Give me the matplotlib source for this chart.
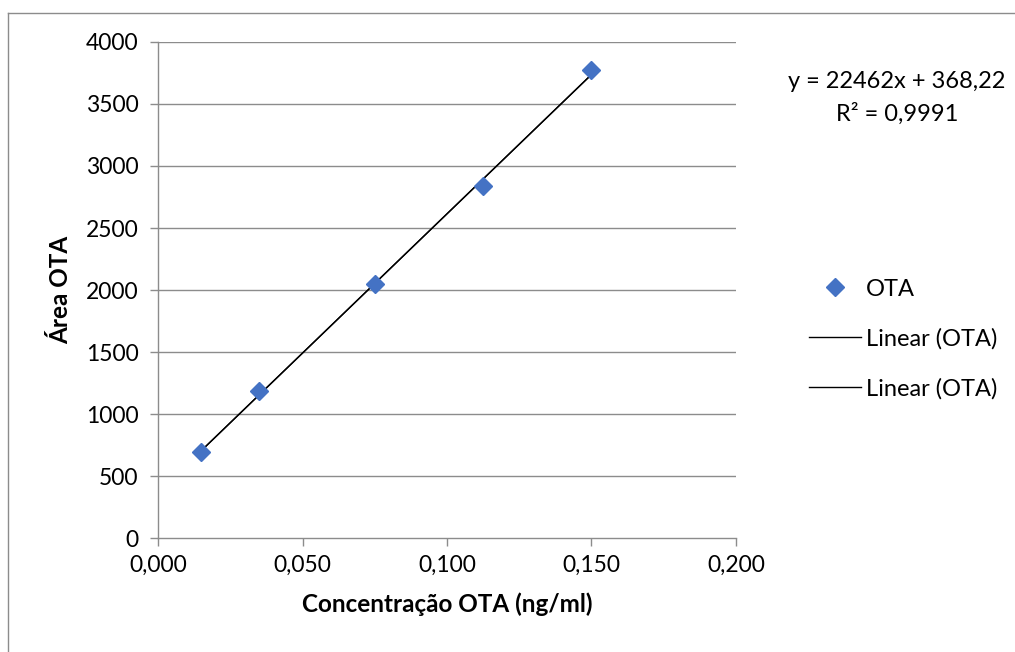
import numpy as np
import matplotlib
matplotlib.use("Agg")
import matplotlib.pyplot as plt
from matplotlib.lines import Line2D
from matplotlib.ticker import FuncFormatter

plt.rcParams['font.family'] = ['Lato', 'DejaVu Sans']

# dados
conc = [0.015, 0.035, 0.075, 0.1125, 0.150]
area = [692, 1183, 2045, 2840, 3776]
slope = 22462
intercept = 368.22
r2 = 0.9991

xticks = [0.0, 0.05, 0.10, 0.15, 0.20]
yticks = [0, 500, 1000, 1500, 2000, 2500, 3000, 3500, 4000]

fig = plt.figure(figsize=(10.15, 6.52), dpi=100)
ax = fig.add_axes([0.1557, 0.1748, 0.5694, 0.7608])

grey = '#8c8c8c'
# moldura do gráfico (só esquerda e topo visíveis)
fx, fy = 7.5/1015, 1 - 12.5/652
fig.add_artist(Line2D([fx, fx], [0, fy], transform=fig.transFigure, color=grey, linewidth=1.0))
fig.add_artist(Line2D([fx, 1], [fy, fy], transform=fig.transFigure, color=grey, linewidth=1.0))

for y in yticks[1:]:
    ax.axhline(y, color=grey, linewidth=1.0, zorder=0)

xl = np.array([min(conc), max(conc)])
ax.plot(xl, slope*xl + intercept, color='black', linewidth=1.0, zorder=2)
ax.plot(xl, slope*xl + intercept, color='black', linewidth=1.0, zorder=2)
ax.plot(conc, area, linestyle='none', marker='D', markersize=9,
        color='#4472C4', zorder=3)

ax.set_xlim(0, 0.2)
ax.set_ylim(0, 4000)
ax.set_xticks(xticks)
ax.set_yticks(yticks)
ax.xaxis.set_major_formatter(FuncFormatter(lambda v, p: ('%.3f' % v).replace('.', ',')))
for s in ['top', 'right']:
    ax.spines[s].set_visible(False)
for s in ['left', 'bottom']:
    ax.spines[s].set_color(grey)
    ax.spines[s].set_linewidth(1.0)
ax.tick_params(axis='both', colors=grey, labelcolor='black', labelsize=16.5,
               length=6, width=1.0)
ax.tick_params(axis='y', pad=8)
ax.tick_params(axis='x', pad=6)

ax.set_xlabel('Concentração OTA (ng/ml)', fontsize=17.5, fontweight='bold', labelpad=12)
ax.set_ylabel('Área OTA', fontsize=17.5, fontweight='bold', labelpad=10)

fig.text(897/1015, 1 - 82/652, 'y = 22462x + 368,22', fontsize=17,
         ha='center', va='center')
fig.text(897/1015, 1 - 114/652, 'R² = %s' % str(r2).replace('.', ','),
         fontsize=17, ha='center', va='center')

handles = [Line2D([], [], linestyle='none', marker='D', markersize=9, color='#4472C4'),
           Line2D([], [], color='black', linewidth=1.0),
           Line2D([], [], color='black', linewidth=1.0)]
fig.legend(handles, ['OTA', 'Linear (OTA)', 'Linear (OTA)'], loc='center left',
           bbox_to_anchor=(788/1015, 1 - 339/652), frameon=False, fontsize=17,
           handlelength=2.2, handletextpad=0.2, labelspacing=1.2)

fig.savefig('out.png', dpi=100)
